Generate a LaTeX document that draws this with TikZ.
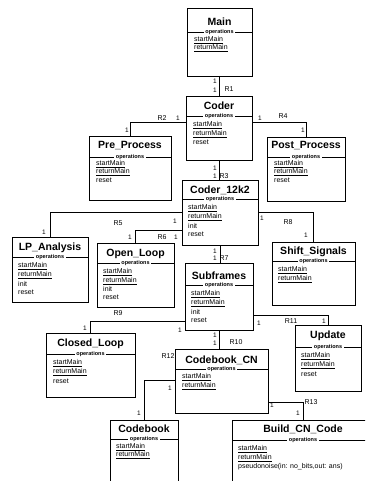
\documentclass[tikz,border=0pt]{standalone}
\usepackage{fontspec}
\setmainfont{Liberation Sans}
\tikzset{
  cls/.style={draw, line width=0.9pt, inner sep=0pt, outer sep=0pt, rectangle, fill=white},
  ttl/.style={font=\fontsize{10.5}{12}\selectfont\bfseries, inner sep=0pt},
  opl/.style={font=\fontsize{5.5}{6}\selectfont\bfseries, fill=white, inner xsep=1.5pt, inner ysep=0pt},
  opx/.style={font=\fontsize{7}{8}\selectfont, anchor=west, inner sep=0pt},
  conn/.style={line width=0.65pt},
  mult/.style={font=\fontsize{6.5}{7}\selectfont, inner sep=0pt},
  role/.style={font=\fontsize{7}{8}\selectfont, inner sep=0pt},
}
\newcommand\ulop[1]{\setbox0\hbox{#1}\rlap{\rule[-1.3pt]{\wd0}{0.45pt}}\box0}
\newcommand\umlbox[8]{%
  \node[cls, minimum width={#4-#2}, minimum height={#5-#3}] (#1) at ({(#2+#4)/2},{(#3+#5)/2}) {};
  \node[ttl] (#1-t) at ({(#2+#4)/2},#7) {#6};
  \draw[line width=0.6pt] (#2,#8) -- (#4,#8);
  \node[opl] (#1-l) at ({(#2+#4)/2},#8) {operations};
}
\newcommand\umlop[4]{\node[opx] (#1) at (#2,#3) {#4};}
\begin{document}
\begin{tikzpicture}[x=1pt,y=-1pt]
\useasboundingbox (0,0) rectangle (365,481);
\fill[white] (0,0) rectangle (365,481);
\clip (0,0) rectangle (365,481);

% classes
\umlbox{main}{187}{8}{252}{76}{Main}{22}{32}
\umlop{main-1}{194}{40}{\ulop{startMain}}
\umlop{main-2}{194}{48}{\ulop{returnMain}}

\umlbox{coder}{186}{96}{252}{160}{Coder}{106}{116}
\umlop{coder-1}{193}{125}{\ulop{startMain}}
\umlop{coder-2}{193}{134}{\ulop{returnMain}}
\umlop{coder-3}{193}{142}{reset}

\umlbox{pre}{89}{136}{171}{200}{Pre\_Process}{146}{157}
\umlop{pre-1}{96}{164}{\ulop{startMain}}
\umlop{pre-2}{96}{172}{\ulop{returnMain}}
\umlop{pre-3}{96}{180}{reset}

\umlbox{post}{267}{137}{345}{201}{Post\_Process}{146}{157}
\umlop{post-1}{274}{164}{\ulop{startMain}}
\umlop{post-2}{274}{172}{\ulop{returnMain}}
\umlop{post-3}{274}{180}{reset}

\umlbox{c12}{182}{180}{258}{245}{Coder\_12k2}{190}{199}
\umlop{c12-1}{188}{208}{\ulop{startMain}}
\umlop{c12-2}{188}{217}{\ulop{returnMain}}
\umlop{c12-3}{188}{226}{init}
\umlop{c12-4}{188}{234}{reset}

\umlbox{lp}{12}{237}{88}{302}{LP\_Analysis}{248}{257}
\umlop{lp-1}{18}{266}{\ulop{startMain}}
\umlop{lp-2}{18}{275}{\ulop{returnMain}}
\umlop{lp-3}{18}{284}{init}
\umlop{lp-4}{18}{292}{reset}

\umlbox{ol}{97}{243}{174}{307}{Open\_Loop}{254}{263}
\umlop{ol-1}{103}{272}{\ulop{startMain}}
\umlop{ol-2}{103}{281}{\ulop{returnMain}}
\umlop{ol-3}{103}{289}{init}
\umlop{ol-4}{103}{297}{reset}

\umlbox{shift}{272}{242}{355}{305}{Shift\_Signals}{252}{261}
\umlop{shift-1}{278}{270}{\ulop{startMain}}
\umlop{shift-2}{278}{279}{\ulop{returnMain}}

\umlbox{sub}{185}{263}{253}{330}{Subframes}{276}{285}
\umlop{sub-1}{191}{294}{\ulop{startMain}}
\umlop{sub-2}{191}{303}{\ulop{returnMain}}
\umlop{sub-3}{191}{312}{init}
\umlop{sub-4}{191}{320}{reset}

\umlbox{closed}{46}{333}{135}{397}{Closed\_Loop}{344}{354}
\umlop{closed-1}{53}{363}{\ulop{startMain}}
\umlop{closed-2}{53}{372}{\ulop{returnMain}}
\umlop{closed-3}{53}{381}{reset}

\umlbox{upd}{295}{325}{361}{391}{Update}{336}{347}
\umlop{upd-1}{301}{356}{\ulop{startMain}}
\umlop{upd-2}{301}{365}{\ulop{returnMain}}
\umlop{upd-3}{301}{374}{reset}

\umlbox{cbcn}{175}{349}{268}{413}{Codebook\_CN}{360}{369}
\umlop{cbcn-1}{182}{377}{\ulop{startMain}}
\umlop{cbcn-2}{182}{386}{\ulop{returnMain}}

\umlbox{cb}{110}{420}{178}{492}{Codebook}{429}{439}
\umlop{cb-1}{116}{447}{\ulop{startMain}}
\umlop{cb-2}{116}{455}{\ulop{returnMain}}

\umlbox{build}{232}{420}{374}{492}{Build\_CN\_Code}{429}{440}
\umlop{build-1}{238}{449}{\ulop{startMain}}
\umlop{build-2}{238}{458}{\ulop{returnMain}}
\umlop{build-3}{238}{467}{pseudonoise(in: no\_bits,out: ans)}

% connectors
\draw[conn] (main.south) -- (main.south |- coder.north);
\draw[conn] ([yshift=-26pt]coder.north west) -| (pre.north);
\draw[conn] ([yshift=-26pt]coder.north east) -| (post.north);
\draw[conn] (coder.south) -- (coder.south |- c12.north);
\draw[conn] ([yshift=-32pt]c12.north west) -| (lp.north);
\draw[conn] ([yshift=-50pt]c12.north west) -| (ol.north);
\draw[conn] ([yshift=-32pt]c12.north east) -| (shift.north);
\draw[conn] (c12.south) -- (c12.south |- sub.north);
\draw[conn] ([yshift=-58pt]sub.north west) -| (closed.north);
\draw[conn] ([yshift=-52pt]sub.north east) -| (upd.north);
\draw[conn] (sub.south) -- (sub.south |- cbcn.north);
\draw[conn] ([yshift=-31pt]cbcn.north west) -| (cb.north);
\draw[conn] ([yshift=-53pt]cbcn.north east) -| (build.north);

% multiplicities and roles
\node[mult] (m1a) at (215,81) {1};
\node[mult] (m1b) at (215,90) {1};
\node[role] (r1) at (229,89) {R1};
\node[mult] (m2a) at (178,118) {1};
\node[role] (r2) at (162,118) {R2};
\node[mult] (m2b) at (127,130) {1};
\node[mult] (m4a) at (260,118) {1};
\node[role] (r4) at (283,116) {R4};
\node[mult] (m4b) at (303,130) {1};
\node[mult] (m3a) at (215,168) {1};
\node[mult] (m3b) at (215,176) {1};
\node[role] (r3) at (224,176) {R3};
\node[mult] (m5a) at (175,221) {1};
\node[role] (r5) at (118,223) {R5};
\node[mult] (m5b) at (44,232) {1};
\node[mult] (m6a) at (130,237) {1};
\node[role] (r6) at (162,237) {R6};
\node[mult] (m6b) at (176,237) {1};
\node[mult] (m8a) at (262,218) {1};
\node[role] (r8) at (288,222) {R8};
\node[mult] (m8b) at (306,235) {1};
\node[mult] (m7a) at (215,251) {1};
\node[mult] (m7b) at (215,258) {1};
\node[role] (r7) at (224,258) {R7};
\node[role] (r9) at (118,313) {R9};
\node[mult] (m9a) at (85,328) {1};
\node[mult] (m9b) at (180,330) {1};
\node[mult] (m10a) at (215,335) {1};
\node[mult] (m10b) at (215,343) {1};
\node[role] (r10) at (236,342) {R10};
\node[mult] (m11a) at (259,323) {1};
\node[role] (r11) at (291,321) {R11};
\node[mult] (m11b) at (324,321) {1};
\node[role] (r12) at (168,356) {R12};
\node[mult] (m12a) at (170,388) {1};
\node[mult] (m12b) at (139,413) {1};
\node[mult] (m13a) at (272,405) {1};
\node[role] (r13) at (311,402) {R13};
\node[mult] (m13b) at (298,413) {1};
\end{tikzpicture}
\end{document}
